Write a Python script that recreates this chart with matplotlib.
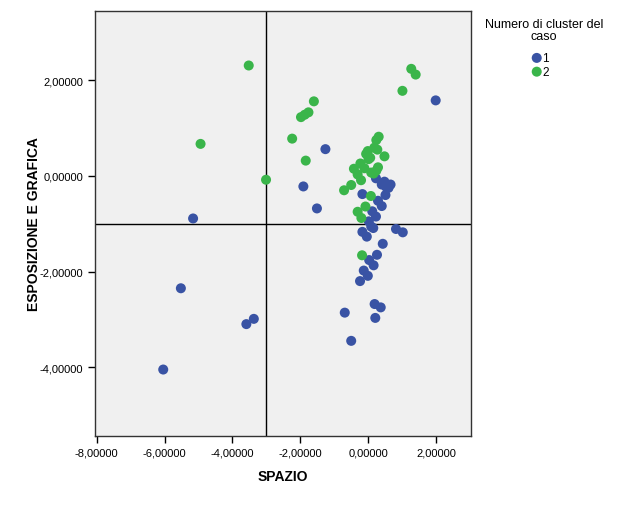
import numpy as np
import matplotlib
matplotlib.use('Agg')
import matplotlib.pyplot as plt
from matplotlib.ticker import FuncFormatter

plt.rcParams['font.family'] = ['Liberation Sans', 'DejaVu Sans']
plt.rcParams['axes.unicode_minus'] = False

# cluster 1 (blue)
spazio_1 = [1.99, -1.26, -1.91, -1.51, -5.16, -5.52, -3.59, -3.37, -6.04,
            0.23, 0.48, 0.66, 0.60, 0.40, 0.53, -0.17, 0.51, 0.29, 0.40,
            0.12, 0.23, 0.02, 0.09, 0.15, -0.17, -0.04, 0.82, 1.02, 0.43,
            0.26, 0.03, 0.16, -0.13, -0.01, -0.24, 0.19, 0.37, -0.69, 0.21, -0.50]
grafica_1 = [1.58, 0.56, -0.22, -0.68, -0.89, -2.35, -3.10, -2.99, -4.05,
             -0.05, -0.12, -0.18, -0.25, -0.18, -0.23, -0.38, -0.40, -0.52, -0.63,
             -0.74, -0.85, -0.95, -1.06, -1.09, -1.17, -1.27, -1.11, -1.18, -1.42,
             -1.65, -1.76, -1.87, -1.98, -2.09, -2.20, -2.68, -2.75, -2.86, -2.97, -3.45]

# cluster 2 (green)
spazio_2 = [-3.52, -4.94, -3.01, -1.60, -1.76, -1.87, -1.98, -2.24, -1.84,
            1.27, 1.40, 1.01, 0.31, 0.24, -0.01, -0.06, 0.18, 0.27, 0.06,
            0.01, 0.48, -0.23, -0.42, -0.11, 0.29, 0.24, 0.09, 0.16, -0.31,
            -0.21, -0.50, -0.71, 0.08, -0.08, -0.31, -0.20, -0.18]
grafica_2 = [2.31, 0.67, -0.08, 1.56, 1.33, 1.28, 1.23, 0.78, 0.32,
             2.24, 2.12, 1.78, 0.82, 0.75, 0.52, 0.46, 0.59, 0.55, 0.38,
             0.35, 0.41, 0.26, 0.15, 0.16, 0.18, 0.11, 0.07, 0.05, 0.03,
             -0.09, -0.19, -0.30, -0.42, -0.64, -0.75, -0.88, -1.66]

ref_x = -3
ref_y = -1
xticks = [-8, -6, -4, -2, 0, 2]
yticks = [2, 0, -2, -4]

blue = '#3953a4'
green = '#3ab54a'

fig = plt.figure(figsize=(6.31, 5.06), dpi=100)
ax = fig.add_axes([0.1506, 0.1364, 0.5958, 0.8399])
ax.set_facecolor('#f0f0f0')

ax.axvline(ref_x, color='black', lw=1, zorder=1)
ax.axhline(ref_y, color='black', lw=1, zorder=1)

ax.scatter(spazio_1, grafica_1, s=52, color=blue, edgecolors='none', zorder=3, label='1')
ax.scatter(spazio_2, grafica_2, s=52, color=green, edgecolors='none', zorder=3, label='2')

ax.set_xlim(-8.05, 3.03)
ax.set_ylim(-5.44, 3.45)
ax.set_xticks(xticks)
ax.set_yticks(yticks)
fmt = FuncFormatter(lambda v, p: f"{v:.5f}".replace('.', ','))
ax.xaxis.set_major_formatter(fmt)
ax.yaxis.set_major_formatter(fmt)
ax.tick_params(labelsize=8, length=5, width=1, colors='black')
for sp in ax.spines.values():
    sp.set_linewidth(1)
    sp.set_color('#333333')

ax.set_xlabel('SPAZIO', fontsize=10, fontweight='bold', labelpad=8)
ax.set_ylabel('ESPOSIZIONE E GRAFICA', fontsize=10, fontweight='bold', labelpad=-1)

# legend: centered title, entries below
fig.text(544 / 631, 1 - 19 / 506, 'Numero di cluster del\ncaso', ha='center', va='top',
         multialignment='center', fontsize=9, linespacing=1.05)
fig.legend(loc='upper left', bbox_to_anchor=(532 / 631, 1 - 53 / 506), frameon=False,
           fontsize=8.5, markerscale=1.0, handlelength=0.8, handletextpad=0.05,
           labelspacing=0.15, borderpad=0, borderaxespad=0)

fig.savefig('out.png', dpi=100, facecolor='white')
